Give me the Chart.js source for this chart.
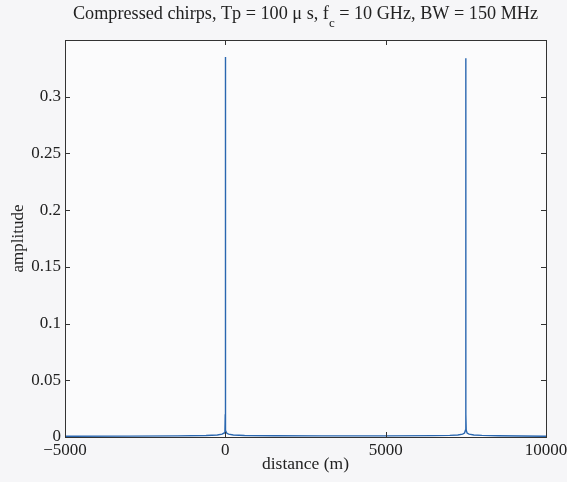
<!DOCTYPE html>
<html>
<head>
<meta charset="utf-8">
<script src="https://cdn.jsdelivr.net/npm/chart.js@4.4.1/dist/chart.umd.min.js"></script>
<style>
  html, body { margin: 0; padding: 0; background: #f6f6f8; }
  #wrap { width: 567px; height: 482px; }
</style>
</head>
<body>
<div id="wrap"><canvas id="c" width="567" height="482"></canvas></div>
<script>
// Compressed chirp output: two range-compressed returns, at 0 m and 7500 m
const distance = [
  -5000, -3000, -1500, -600, -250, -100, -40, -12, -3, 0, 3, 12, 40, 100, 250, 600,
  1500, 3000, 5000, 6500, 7000, 7250, 7400, 7460, 7488, 7497, 7500, 7503, 7512,
  7540, 7600, 7750, 8000, 8500, 10000
];
const amplitude = [
  0.0006, 0.0008, 0.001, 0.0013, 0.0018, 0.0025, 0.0035, 0.006, 0.02, 0.335, 0.02, 0.006, 0.0035, 0.0025, 0.0018, 0.0013,
  0.0011, 0.001, 0.001, 0.0012, 0.0014, 0.0018, 0.0025, 0.0035, 0.006, 0.02, 0.334, 0.02, 0.006,
  0.0035, 0.0025, 0.0018, 0.0014, 0.0011, 0.0007
];
const xTicks = [-5000, 0, 5000, 10000];
const yTicks = [0, 0.05, 0.1, 0.15, 0.2, 0.25, 0.3];
const xTickLabels = ['\u22125000', '0', '5000', '10000'];
const yTickLabels = ['0', '0.05', '0.1', '0.15', '0.2', '0.25', '0.3'];

const SERIF = '"Liberation Serif", "DejaVu Serif", serif';
const TEXT = '#222';
const AXIS = '#333';

// Title with a subscripted "c" in f_c
const titlePlugin = {
  id: 'subTitle',
  afterDraw(chart) {
    const ctx = chart.ctx;
    const a = chart.chartArea;
    const parts = [
      { t: 'Compressed chirps, Tp = 100 \u03bc s, f', size: 18.2, dy: 0 },
      { t: 'c', size: 13, dy: 8 },
      { t: ' = 10 GHz, BW = 150 MHz', size: 18.2, dy: 0 }
    ];
    ctx.save();
    ctx.fillStyle = TEXT;
    ctx.textBaseline = 'alphabetic';
    ctx.textAlign = 'left';
    let total = 0;
    parts.forEach(p => { ctx.font = p.size + 'px ' + SERIF; p.w = ctx.measureText(p.t).width; total += p.w; });
    let x = (a.left + a.right) / 2 - total / 2;
    const base = 19;
    parts.forEach(p => {
      ctx.font = p.size + 'px ' + SERIF;
      ctx.fillText(p.t, x, base + p.dy);
      x += p.w;
    });
    ctx.restore();
  }
};

// Plot-area fill, box frame and inward tick marks on all four sides
const framePlugin = {
  id: 'frame',
  beforeDatasetsDraw(chart) {
    const { ctx, chartArea: a } = chart;
    ctx.save();
    ctx.fillStyle = '#fbfbfc';
    ctx.fillRect(a.left, a.top, a.right - a.left, a.bottom - a.top);
    ctx.restore();
  },
  afterDatasetsDraw(chart) {
    const { ctx, chartArea: a, scales } = chart;
    const len = 5;
    ctx.save();
    ctx.strokeStyle = AXIS;
    ctx.lineWidth = 1;
    ctx.beginPath();
    xTicks.forEach(v => {
      const px = Math.round(scales.x.getPixelForValue(v)) + 0.5;
      ctx.moveTo(px, a.bottom); ctx.lineTo(px, a.bottom - len);
      ctx.moveTo(px, a.top); ctx.lineTo(px, a.top + len);
    });
    yTicks.forEach(v => {
      const py = Math.round(scales.y.getPixelForValue(v)) + 0.5;
      ctx.moveTo(a.left, py); ctx.lineTo(a.left + len, py);
      ctx.moveTo(a.right, py); ctx.lineTo(a.right - len, py);
    });
    ctx.stroke();
    ctx.strokeRect(Math.round(a.left) + 0.5, Math.round(a.top) + 0.5,
                   Math.round(a.right - a.left), Math.round(a.bottom - a.top));
    ctx.restore();
  }
};

const bgPlugin = {
  id: 'bg',
  beforeDraw(chart) {
    const ctx = chart.ctx;
    ctx.save();
    ctx.fillStyle = '#f6f6f8';
    ctx.fillRect(0, 0, chart.width, chart.height);
    ctx.restore();
  }
};

new Chart(document.getElementById('c'), {
  type: 'line',
  data: {
    datasets: [{
      data: distance.map((d, i) => ({ x: d, y: amplitude[i] })),
      borderColor: '#2a67b0',
      borderWidth: 1.4,
      pointRadius: 0,
      tension: 0,
      fill: false
    }]
  },
  options: {
    responsive: false,
    animation: false,
    devicePixelRatio: 1,
    layout: { padding: { left: 0, top: 40, right: 21, bottom: 0 } },
    plugins: { legend: { display: false }, tooltip: { enabled: false }, title: { display: false } },
    scales: {
      x: {
        type: 'linear',
        min: -5000, max: 10000,
        afterFit(s) { s.height = 45; s.paddingLeft = 0; s.paddingRight = 0; },
        afterBuildTicks(s) { s.ticks = xTicks.map(v => ({ value: v })); },
        grid: { display: false, drawTicks: false },
        border: { display: false },
        ticks: {
          padding: 3,
          color: TEXT,
          font: { family: SERIF, size: 17 },
          maxRotation: 0,
          autoSkip: false,
          callback: (v) => { const i = xTicks.indexOf(v); return i >= 0 ? xTickLabels[i] : ''; }
        },
        title: {
          display: true, text: 'distance (m)', color: TEXT,
          font: { family: SERIF, size: 17.5 },
          padding: { top: 0, bottom: 7 }
        }
      },
      y: {
        type: 'linear',
        min: 0, max: 0.35,
        afterFit(s) { s.width = 65; s.paddingTop = 0; s.paddingBottom = 0; },
        afterBuildTicks(s) { s.ticks = yTicks.map(v => ({ value: v })); },
        grid: { display: false, drawTicks: false },
        border: { display: false },
        ticks: {
          padding: 4,
          color: TEXT,
          font: { family: SERIF, size: 17 },
          autoSkip: false,
          callback: (v) => { const i = yTicks.indexOf(v); return i >= 0 ? yTickLabels[i] : ''; }
        },
        title: {
          display: true, text: 'amplitude', color: TEXT,
          font: { family: SERIF, size: 17 },
          padding: { top: 8, bottom: 0 }
        }
      }
    }
  },
  plugins: [bgPlugin, framePlugin, titlePlugin]
});
</script>
</body>
</html>
